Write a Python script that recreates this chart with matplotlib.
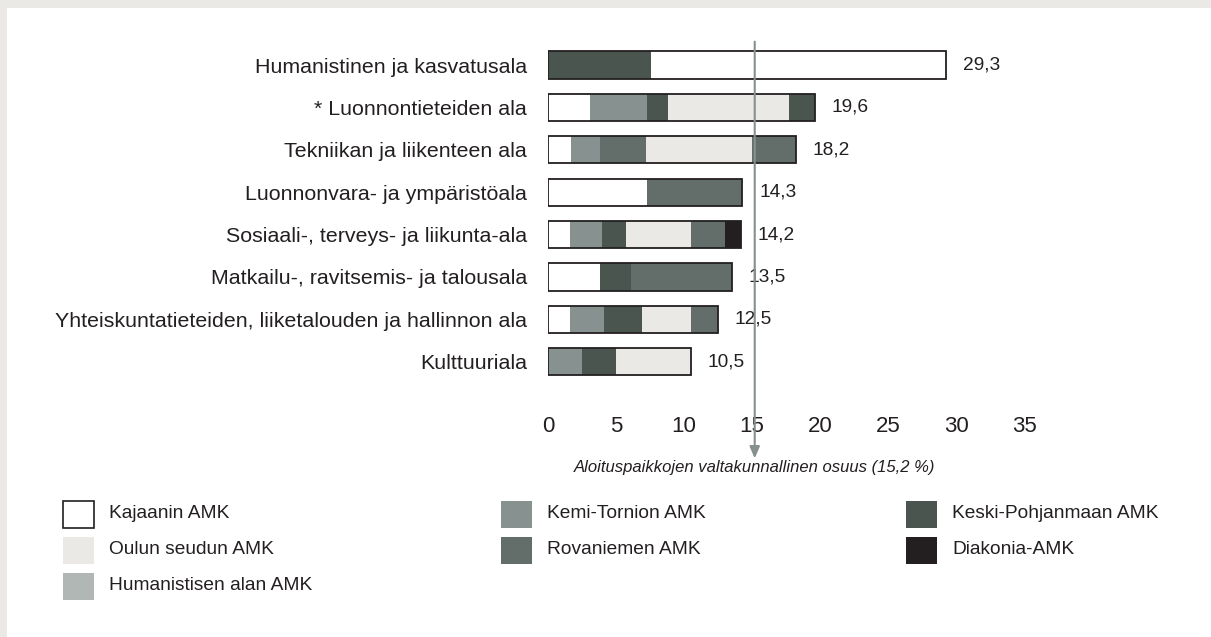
import matplotlib
matplotlib.use("Agg")
import matplotlib.pyplot as plt
from matplotlib.patches import Rectangle
from matplotlib import font_manager

names = {f.name for f in font_manager.fontManager.ttflist}
FAM = ["Liberation Sans Narrow", "DejaVu Sans"] if "Liberation Sans Narrow" in names else ["Liberation Sans", "DejaVu Sans"]
plt.rcParams["font.family"] = FAM
FS = 13.8

# ---------------- data ----------------
categories = [
    "Humanistinen ja kasvatusala",
    "* Luonnontieteiden ala",
    "Tekniikan ja liikenteen ala",
    "Luonnonvara- ja ympäristöala",
    "Sosiaali-, terveys- ja liikunta-ala",
    "Matkailu-, ravitsemis- ja talousala",
    "Yhteiskuntatieteiden, liiketalouden ja hallinnon ala",
    "Kulttuuriala",
]
totals = [29.3, 19.6, 18.2, 14.3, 14.2, 13.5, 12.5, 10.5]

series_names = ["Kajaanin AMK", "Oulun seudun AMK", "Humanistisen alan AMK",
                "Kemi-Tornion AMK", "Rovaniemen AMK", "Keski-Pohjanmaan AMK",
                "Diakonia-AMK"]
series_colors = ["#ffffff", "#ebe9e5", "#b0b7b5", "#87918f", "#636d6a", "#4b5550", "#231f20"]

segment_series = [
    ["Keski-Pohjanmaan AMK", "Kajaanin AMK"],
    ["Kajaanin AMK", "Kemi-Tornion AMK", "Keski-Pohjanmaan AMK", "Oulun seudun AMK", "Keski-Pohjanmaan AMK"],
    ["Kajaanin AMK", "Kemi-Tornion AMK", "Rovaniemen AMK", "Oulun seudun AMK", "Rovaniemen AMK"],
    ["Kajaanin AMK", "Rovaniemen AMK"],
    ["Kajaanin AMK", "Kemi-Tornion AMK", "Keski-Pohjanmaan AMK", "Oulun seudun AMK", "Rovaniemen AMK", "Diakonia-AMK"],
    ["Kajaanin AMK", "Keski-Pohjanmaan AMK", "Rovaniemen AMK"],
    ["Kajaanin AMK", "Kemi-Tornion AMK", "Keski-Pohjanmaan AMK", "Oulun seudun AMK", "Rovaniemen AMK"],
    ["Kemi-Tornion AMK", "Keski-Pohjanmaan AMK", "Oulun seudun AMK"],
]
segment_values = [
    [7.6, 21.7],
    [3.1, 4.2, 1.5, 8.9, 1.9],
    [1.7, 2.1, 3.4, 7.8, 3.2],
    [7.3, 7.0],
    [1.6, 2.4, 1.7, 4.8, 2.5, 1.2],
    [3.8, 2.3, 7.4],
    [1.6, 2.5, 2.8, 3.6, 2.0],
    [2.5, 2.5, 5.5],
]
xticks = [0, 5, 10, 15, 20, 25, 30, 35]
national_share = 15.2
ref_label = "Aloituspaikkojen valtakunnallinen osuus (15,2 %)"

# ---------------- figure ----------------
W, H = 1211, 637
fig = plt.figure(figsize=(W / 100, H / 100), dpi=100)
fig.patch.set_facecolor("#ebe9e5")
fig.patches.append(Rectangle((7 / W, 0), 1 - 7 / W, 1 - 8 / H, transform=fig.transFigure,
                             facecolor="white", edgecolor="none", zorder=-5))

TXT = "#231f20"
color_of = dict(zip(series_names, series_colors))

PX_PER_UNIT = 13.6
ax = fig.add_axes([548 / W, 1 - 405 / H, 35 * PX_PER_UNIT / W, (405 - 40) / H])
ax.set_zorder(2)
ax.set_facecolor("none")
ax.set_xlim(0, 35)
ax.set_ylim(8.02, -0.59)
bh = 0.64

for i, (sers, vals) in enumerate(zip(segment_series, segment_values)):
    left = 0
    for s, v in zip(sers, vals):
        ax.barh(i, v, left=left, height=bh, color=color_of[s], edgecolor="none", zorder=2)
        left += v
    ax.barh(i, totals[i], height=bh, fill=False, edgecolor=TXT, linewidth=1.3, zorder=3)
    ax.annotate(f"{totals[i]:.1f}".replace(".", ","), xy=(totals[i], i), xytext=(12, 0),
                textcoords="offset points", va="center", ha="left", fontsize=FS, color=TXT)

ax.set_yticks(range(len(categories)))
ax.set_yticklabels(categories)
ax.set_xticks(xticks)
ax.set_xticklabels([str(t) for t in xticks])
ax.tick_params(axis="both", length=0, colors=TXT)
ax.tick_params(axis="y", pad=15, labelsize=15.4)
ax.tick_params(axis="x", pad=8, labelsize=16)
for sp in ax.spines.values():
    sp.set_visible(False)

# reference line with arrow
ax.annotate("", xy=(national_share, 9.28), xytext=(national_share, -0.55),
            arrowprops=dict(arrowstyle="-|>,head_length=0.7,head_width=0.3", color="#86908e",
                            lw=1.5, shrinkA=0, shrinkB=0),
            annotation_clip=False, zorder=4)
ax.text(national_share, 9.5, ref_label, ha="center", va="center", fontsize=12,
        style="italic", color=TXT, clip_on=False)

# legend
legend_layout = [
    ("Kajaanin AMK", 63, 514), ("Oulun seudun AMK", 63, 550), ("Humanistisen alan AMK", 63, 586),
    ("Kemi-Tornion AMK", 501, 514), ("Rovaniemen AMK", 501, 550),
    ("Keski-Pohjanmaan AMK", 906, 514), ("Diakonia-AMK", 906, 550),
]
sw, shh = 31, 27
for name, x, yc in legend_layout:
    ec = TXT if name == "Kajaanin AMK" else "none"
    fig.patches.append(Rectangle((x / W, 1 - (yc + shh / 2) / H), sw / W, shh / H,
                                 transform=fig.transFigure, facecolor=color_of[name],
                                 edgecolor=ec, linewidth=1.2, zorder=3))
    fig.text((x + 46) / W, 1 - yc / H, name, ha="left", va="center", fontsize=FS, color=TXT)

fig.savefig("out.png", dpi=100, facecolor=fig.get_facecolor())
